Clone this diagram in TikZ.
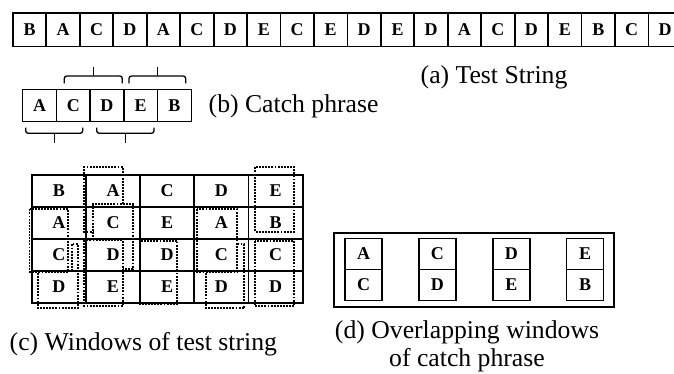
\documentclass[tikz,border=0pt]{standalone}
\usepackage{fontspec}
\setmainfont{Liberation Serif}
\begin{document}
\begin{tikzpicture}[x=1pt,y=-1pt,
  letter/.style={font=\fontsize{18}{18}\selectfont\bfseries},
  caption/.style={font=\fontsize{25.7}{28.5}\selectfont, inner sep=0pt},
  stripcell/.style={draw, line width=1.8pt, letter, inner sep=0pt, outer sep=0pt,
    anchor=north west, minimum width=33.45pt, minimum height=33.5pt},
  phrasecell/.style={draw, line width=1.4pt, letter, inner sep=0pt, outer sep=0pt,
    anchor=north west, minimum width=33.7pt, minimum height=32.4pt},
  gridcell/.style={draw, line width=1.8pt, letter, inner sep=0pt, outer sep=0pt,
    anchor=north west, minimum width=54.2pt, minimum height=32pt},
  paircell/.style={draw, line width=1.4pt, letter, inner sep=0pt, outer sep=0pt,
    anchor=north west, minimum width=37pt, minimum height=31pt},
  bracket/.style={line width=1.3pt, rounded corners=2.5pt},
  window/.style={line width=1.9pt, dash pattern=on 1.9pt off 1.2pt},
]
\useasboundingbox (0,0) rectangle (674,373);
\clip (0,0) rectangle (674,373);

% (a) the test string
\foreach \c [count=\i] in {B,A,C,D,A,C,D,E,C,E,D,E,D,A,C,D,E,B,C,D}
  \node[stripcell] (s\i) at ({12.9+(\i-1)*33.45}, 13) {\c};
\node[caption, anchor=base west] (capa) at (420.5, 83) {(a) Test String};

% (b) the catch phrase with its bracketed pairs
\foreach \c [count=\i] in {A,C,D,E,B}
  \node[phrasecell] (p\i) at ({22.7+(\i-1)*33.7}, 89.3) {\c};
\node[caption, anchor=base west] (capb) at (208.5, 112) {(b) Catch phrase};

\draw[bracket] (64.3,83.3) -- (64.3,76) -- (122.3,76) -- (122.3,83.3);
\draw[bracket] (93.3,76) -- (93.3,67.3);
\draw[bracket] (129,83.3) -- (129,76) -- (185.7,76) -- (185.7,83.3);
\draw[bracket] (157.7,76) -- (157.7,67.3);
\draw[bracket] (25.7,127.7) -- (25.7,133.3) -- (82.7,133.3) -- (82.7,127.7);
\draw[bracket] (54.3,133.3) -- (54.3,142.7);
\draw[bracket] (96.7,127.7) -- (96.7,133.3) -- (154,133.3) -- (154,127.7);
\draw[bracket] (125.7,133.3) -- (125.7,142.7);

% (c) the test string folded into columns of four
\foreach \col/\letters in {1/{B,A,C,D},2/{A,C,D,E},3/{C,E,D,E},4/{D,A,C,D},5/{E,B,C,D}}
  \foreach \c [count=\r] in \letters
    \node[gridcell] (g\col\r) at ({31.7+(\col-1)*54.2}, {175+(\r-1)*32}) {\c};

% windows found in each column
\draw[window] (29.5,209.3) rectangle (68.3,271.7);
\draw[window] (38.3,272.7) -- (38.3,308.3) -- (77.7,308.3) -- (77.7,244) -- (71.7,244) -- (71.7,271.7);
\draw[window] (122.7,204.3) -- (122.7,167.3) -- (84,167.3) -- (84,231.7) -- (93.3,231.7);
\draw[window] (93.3,240) -- (93.3,204.3) -- (132.7,204.3) -- (132.7,269) -- (122.7,269);
\draw[window] (84,240) rectangle (122.7,305.7);
\draw[window] (140,240.7) rectangle (177.3,304);
\draw[window] (196.7,209.3) rectangle (237.3,271.7);
\draw[window] (206,272.7) -- (206,308.3) -- (244,308.3) -- (244,244) -- (237.3,244);
\draw[window] (255,167.3) rectangle (294.3,231.7);
\draw[window] (255,240.7) rectangle (294.3,305.7);

\node[caption, anchor=base west] (capc) at (9.5, 350) {(c) Windows of test string};

% (d) overlapping windows of the catch phrase
\node[draw, line width=1.8pt, inner sep=0pt, anchor=north west,
  minimum width=279.4pt, minimum height=74pt] (dbox) at (333.3,231.7) {};
\foreach \a/\b [count=\i] in {A/C,C/D,D/E,E/B} {
  \node[paircell] (t\i) at ({345+(\i-1)*73.9}, 238.3) {\a};
  \node[paircell, anchor=north] (u\i) at (t\i.south) {\b};
}
\node[caption, align=center, anchor=north] (capd) at (467, 320)
  {(d) Overlapping windows\\of catch phrase};
\end{tikzpicture}
\end{document}
